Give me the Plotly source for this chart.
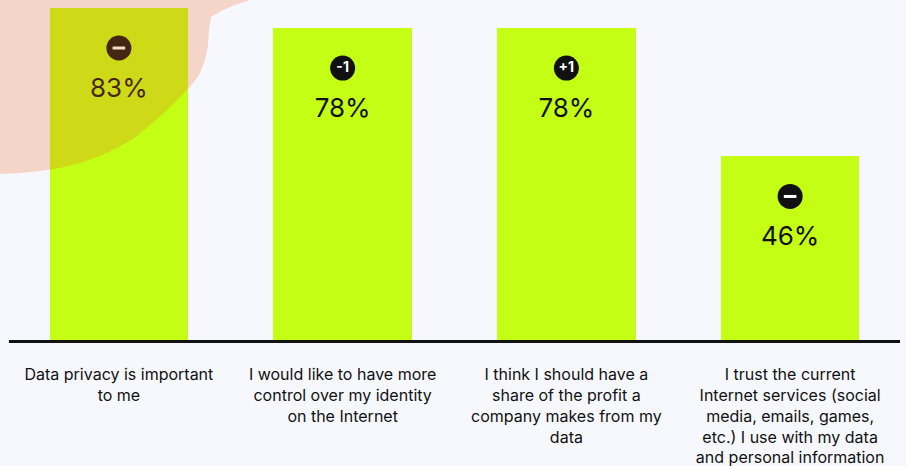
import plotly.graph_objects as go

# Survey statements and share of respondents agreeing (%)
statements = [
    "Data privacy is important<br>to me",
    "I would like to have more<br>control over my identity<br>on the Internet",
    "I think I should have a<br>share of the profit a<br>company makes from my<br>data",
    "I trust the current<br>Internet services (social<br>media, emails, games,<br>etc.) I use with my data<br>and personal information",
]
agree_pct = [83, 78, 78, 46]
# Change versus previous survey wave ("−" = marked as down, no figure)
change = ["−", "-1", "+1", "−"]

BG = "#F7F8FD"
LIME = "#C4FE14"
INK = "#111111"

L, R, T, B = 7, 4, 0, 125
W = 906 - L - R
H = 466 - T - B
Y_MAX = 85
px_per_unit = H / Y_MAX

xs = list(range(len(statements)))

fig = go.Figure()

fig.add_trace(go.Bar(
    x=xs, y=agree_pct, width=0.62,
    marker=dict(color=LIME, line=dict(width=0)),
    hoverinfo="skip",
))

# change badges: dark circles sitting ~40px below each bar top
badge_y = [v - 40 / px_per_unit for v in agree_pct]
fig.add_trace(go.Scatter(
    x=xs, y=badge_y, mode="markers+text",
    marker=dict(symbol="circle", size=25, color=INK, line=dict(width=0)),
    text=["" if c == "−" else f"<b>{c}</b>" for c in change],
    textposition="middle center",
    textfont=dict(family="Inter", size=14, color="white"),
    hoverinfo="skip",
))
# plain minus badges get a short white bar
minus_x = [x for x, c in zip(xs, change) if c == "−"]
minus_y = [y for y, c in zip(badge_y, change) if c == "−"]
fig.add_trace(go.Scatter(
    x=minus_x, y=minus_y, mode="markers",
    marker=dict(symbol="line-ew", size=9, line=dict(color="white", width=3)),
    hoverinfo="skip",
))

# percentage labels
label_y = [v - 82 / px_per_unit for v in agree_pct]
fig.add_trace(go.Scatter(
    x=xs, y=label_y, mode="text",
    text=[f"{v}%" for v in agree_pct],
    textposition="middle center",
    textfont=dict(family="Inter", size=26, color=INK),
    hoverinfo="skip",
))


def to_paper(px, py):
    return (px - L) / W, 1 - (py - T) / H


# decorative translucent blob in the upper-left corner
blob_px = [
    (-10, -10), (262, -10), (250, 0), (235, 5), (221, 11), (211, 17),
    (209, 30), (208, 45), (205, 60), (199, 75), (190, 87), (178, 99),
    (165, 112), (150, 125), (133, 139), (115, 149), (100, 156),
    (80, 163), (60, 168), (40, 171), (20, 173), (0, 174), (-10, 174),
]
pts = [to_paper(px, py) for px, py in blob_px]
path = "M " + " L ".join(f"{x:.5f},{y:.5f}" for x, y in pts) + " Z"
fig.add_shape(
    type="path", path=path, xref="paper", yref="paper",
    fillcolor="rgb(237,105,33)", opacity=0.24,
    line=dict(width=0), layer="above",
)

# baseline
x0, yb = to_paper(9, 341.5)
x1, _ = to_paper(900, 341.5)
fig.add_shape(
    type="line", xref="paper", yref="paper",
    x0=x0, x1=x1, y0=yb, y1=yb,
    line=dict(color=INK, width=3), layer="above",
)

fig.update_layout(
    width=906, height=466,
    margin=dict(l=L, r=R, t=T, b=B, pad=0),
    paper_bgcolor=BG, plot_bgcolor=BG,
    showlegend=False, hovermode=False,
    bargap=0,
    font=dict(family="Inter", color=INK),
)
fig.update_xaxes(
    range=[-0.5, len(statements) - 0.5],
    tickvals=xs, ticktext=statements,
    tickfont=dict(family="Inter", size=16, color=INK),
    ticks="outside", ticklen=19, tickcolor="rgba(0,0,0,0)",
    showgrid=False, zeroline=False, showline=False,
    fixedrange=True,
)
fig.update_yaxes(
    range=[0, Y_MAX], visible=False, showgrid=False, zeroline=False,
    fixedrange=True,
)

fig.write_html("out.html", config={"displayModeBar": False})
